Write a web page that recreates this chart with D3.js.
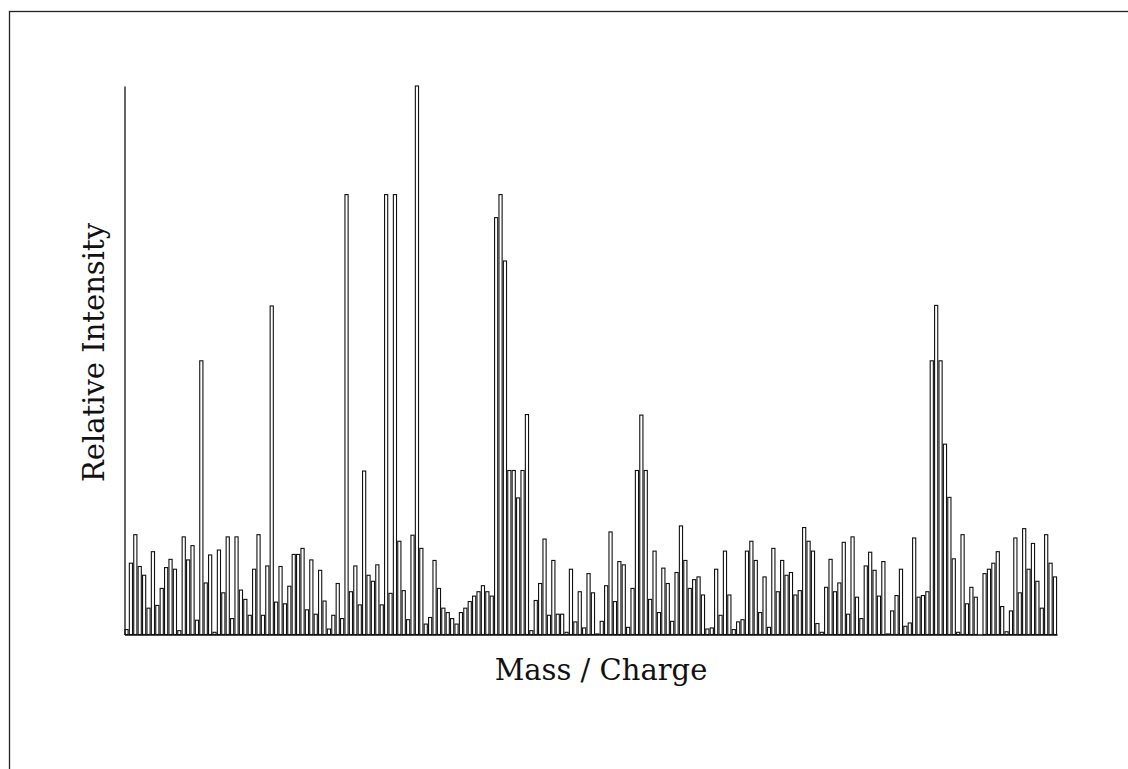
<!DOCTYPE html>
<html>
<head>
<meta charset="utf-8">
<script src="https://cdn.jsdelivr.net/npm/d3@7/dist/d3.min.js"></script>
<style>
  html, body { margin: 0; padding: 0; background: #fff; }
  svg { display: block; }
</style>
</head>
<body>
<svg id="chart" width="1128" height="769"></svg>
<script>
// Relative intensity (%) of each mass/charge bin, read left to right
const intensity = [
  0.9, 13.0, 18.2, 12.4, 10.8, 4.8, 15.1, 5.3, 8.4, 12.2,
  13.7, 11.9, 0.7, 17.8, 13.6, 16.2, 2.6, 49.9, 9.4, 14.5,
  0.4, 15.4, 7.6, 17.8, 2.9, 17.8, 8.1, 6.4, 3.5, 11.9,
  18.2, 3.5, 12.5, 59.9, 5.9, 12.4, 5.6, 8.8, 14.6, 14.6,
  15.7, 4.5, 13.6, 3.7, 11.7, 6.1, 1.0, 3.5, 9.3, 2.9,
  80.2, 7.8, 12.5, 5.4, 29.8, 10.8, 9.7, 12.7, 5.4, 80.2,
  7.5, 80.2, 17.0, 8.0, 2.7, 18.1, 100, 15.7, 1.9, 3.1,
  13.5, 8.4, 4.8, 4.0, 2.9, 1.9, 4.0, 4.8, 6.0, 7.0,
  7.8, 8.9, 7.8, 7.0, 76.0, 80.2, 68.1, 29.9, 29.9, 24.9,
  29.9, 40.1, 0.7, 6.2, 9.3, 17.4, 3.5, 13.5, 3.7, 3.7,
  0.4, 11.9, 2.3, 7.8, 1.2, 11.1, 7.6, 0.1, 2.4, 8.9,
  18.7, 6.0, 13.3, 12.7, 1.3, 8.4, 29.9, 40.0, 29.9, 6.4,
  15.2, 4.0, 12.1, 9.3, 2.4, 11.3, 19.8, 13.5, 8.4, 10.0,
  10.5, 7.2, 1.0, 1.2, 11.9, 3.5, 15.2, 7.2, 0.9, 2.3,
  2.7, 15.2, 17.0, 13.5, 4.0, 10.5, 1.3, 15.7, 7.8, 13.5,
  10.8, 11.3, 7.2, 8.0, 19.5, 17.0, 15.2, 2.0, 0.4, 8.6,
  13.7, 7.8, 9.4, 16.8, 3.7, 17.8, 6.8, 2.9, 12.5, 15.0,
  11.7, 7.0, 13.3, 0.1, 4.3, 7.1, 11.9, 1.5, 2.1, 17.6,
  6.8, 7.1, 7.8, 49.9, 60.0, 49.9, 34.7, 25.0, 13.8, 0.4,
  18.2, 5.6, 8.6, 6.8, 0, 11.1, 11.9, 13.0, 15.1, 5.1,
  0.5, 4.3, 17.6, 7.6, 19.3, 11.9, 16.6, 9.7, 4.8, 18.2,
  13.0, 10.5
];
// Bin labels (one per bar; the chart shows no tick labels)
const bins = intensity.map((_, i) => i);
const xTickLabels = [];
const yTickLabels = [];
const xTitle = "Mass / Charge";
const yTitle = "Relative Intensity";

const svg = d3.select("#chart");
const M = { left: 124.5, right: 1057, top: 86, bottom: 634.5 };

// frame around the figure (extends past right/bottom edges)
svg.append("rect")
  .attr("x", 9.5).attr("y", 11.5)
  .attr("width", 1300).attr("height", 1000)
  .attr("fill", "none").attr("stroke", "#222").attr("stroke-width", 1.3);

const x = d3.scaleBand().domain(bins).range([M.left, M.right]).paddingInner(0.28).paddingOuter(0.1);
const y = d3.scaleLinear().domain([0, 100]).range([M.bottom, M.top]);

svg.append("g").selectAll("rect")
  .data(intensity)
  .join("rect")
  .attr("x", (d, i) => x(bins[i]))
  .attr("width", x.bandwidth())
  .attr("y", d => y(d))
  .attr("height", d => y(0) - y(d))
  .attr("fill", "#ffffff")
  .attr("stroke", "#111")
  .attr("stroke-width", 1.1);

const xAxis = svg.append("g")
  .attr("transform", `translate(0,${M.bottom})`)
  .call(d3.axisBottom(x).tickValues(xTickLabels).tickSizeOuter(0));
const yAxis = svg.append("g")
  .attr("transform", `translate(${M.left},0)`)
  .call(d3.axisLeft(y).tickValues(yTickLabels).tickSizeOuter(0));
[xAxis, yAxis].forEach(g => g.select(".domain").attr("stroke", "#111").attr("stroke-width", 1.3));

svg.append("text")
  .attr("x", 601).attr("y", 680)
  .attr("text-anchor", "middle")
  .attr("font-family", "'DejaVu Serif', serif")
  .attr("font-size", 29)
  .attr("fill", "#111")
  .text(xTitle);

svg.append("text")
  .attr("transform", "translate(104,352.5) rotate(-90)")
  .attr("text-anchor", "middle")
  .attr("font-family", "'DejaVu Serif', serif")
  .attr("font-size", 29)
  .attr("fill", "#111")
  .text(yTitle);
</script>
</body>
</html>
